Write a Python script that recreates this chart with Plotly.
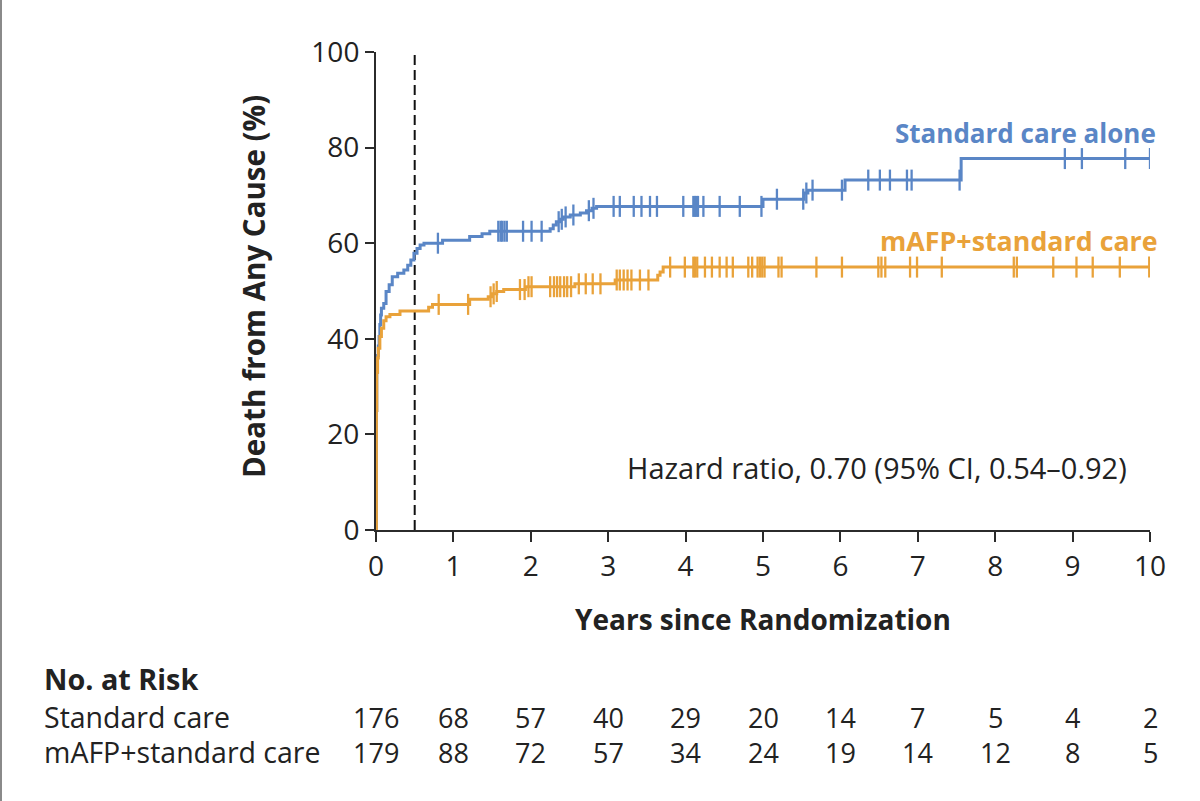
import numpy as np
import plotly.graph_objects as go

# ---------------- data ----------------
std_t = [0, 0.005, 0.01, 0.02, 0.03, 0.04, 0.05, 0.06, 0.07, 0.1, 0.13, 0.17, 0.21, 0.28, 0.36,
         0.41, 0.45, 0.49, 0.53, 0.57, 0.62, 0.86, 1.21, 1.37, 1.47, 2.25, 2.29, 2.33, 2.38, 2.42,
         2.51, 2.64, 2.72, 2.79, 2.85, 5.0, 5.53, 5.58, 6.06, 7.56, 10.05]
std_v = [0, 25, 33, 36.5, 38.5, 40.5, 43, 45, 46.4, 47.4, 49.9, 51.3, 53, 53.7, 54.4,
         55.4, 56.5, 57.9, 58.9, 59.6, 60.0, 60.6, 61.4, 62.0, 62.5, 63.0, 63.8, 64.5, 65.0, 65.5,
         65.9, 66.3, 66.8, 67.3, 67.7, 69.2, 70.5, 71.1, 73.2, 77.7, 77.7]
std_cens = [0.8, 1.58, 1.61, 1.63, 1.66, 1.69, 1.9, 2.01, 2.14, 2.36, 2.4, 2.45, 2.55, 2.75, 2.81,
            3.07, 3.15, 3.33, 3.43, 3.54, 3.63, 3.97, 4.1, 4.12, 4.14, 4.16, 4.23, 4.44, 4.70, 4.98,
            5.18, 5.52, 5.56, 5.64, 6.02, 6.36, 6.51, 6.64, 6.86, 6.92, 7.54, 8.90, 9.12, 9.68, 10.0]

mafp_t = [0, 0.005, 0.01, 0.02, 0.03, 0.05, 0.07, 0.1, 0.13, 0.18, 0.31, 0.68, 0.73, 1.21, 1.45,
          1.5, 1.56, 1.65, 1.93, 2.57, 3.09, 3.64, 3.67, 3.71, 10.05]
mafp_v = [0, 25, 33, 36, 38, 40.5, 42.2, 43.8, 44.6, 45.1, 45.8, 46.6, 47.2, 48.3, 48.8,
          49.4, 49.9, 50.3, 50.9, 51.5, 52.3, 53.3, 54.0, 55.0, 55.0]
mafp_cens = [0.81, 1.19, 1.48, 1.52, 1.56, 1.86, 1.92, 1.97, 2.01, 2.25, 2.3, 2.34, 2.38, 2.43,
             2.47, 2.52, 2.62, 2.71, 2.8, 2.9, 3.11, 3.15, 3.2, 3.25, 3.3, 3.41, 3.52, 3.8, 3.99,
             4.1, 4.12, 4.15, 4.25, 4.34, 4.44, 4.53, 4.61, 4.81, 4.86, 4.93, 4.96, 4.99, 5.02,
             5.2, 5.24, 5.69, 6.02, 6.49, 6.53, 6.58, 6.9, 6.99, 7.31, 8.24, 8.28, 8.75, 9.05,
             9.26, 9.61, 9.99]

risk_years = [0, 1, 2, 3, 4, 5, 6, 7, 8, 9, 10]
risk_std = [176, 68, 57, 40, 29, 20, 14, 7, 5, 4, 2]
risk_mafp = [179, 88, 72, 57, 34, 24, 19, 14, 12, 8, 5]

group_names = ["Standard care alone", "mAFP+standard care"]
risk_labels = ["Standard care", "mAFP+standard care"]
landmark_year = 0.5
hazard_text = "Hazard ratio, 0.70 (95% CI, 0.54\u20130.92)"

# ---------------- styling ----------------
BLUE = "#5a86c6"
ORANGE = "#e9a23a"
AX = "#2b2b2b"
TXT = "#222222"
FONT = "Open Sans"
W, H = 1200, 801
L, R, T, B = 376, 50, 52, 271
pw, ph = W - L - R, H - T - B


def step_at(ts, vs, x):
    ts = np.asarray(ts)
    vs = np.asarray(vs)
    idx = np.searchsorted(ts, x, side="right") - 1
    return vs[np.clip(idx, 0, len(vs) - 1)]


def px_x(p):
    return (p - L) / pw


def px_y(p):
    return (H - B - p) / ph


fig = go.Figure()

for ts, vs, cens, col, name in [(std_t, std_v, std_cens, BLUE, group_names[0]),
                                (mafp_t, mafp_v, mafp_cens, ORANGE, group_names[1])]:
    fig.add_trace(go.Scatter(x=ts, y=vs, mode="lines", line=dict(color=col, width=3, shape="hv"),
                             name=name, showlegend=False, hoverinfo="skip"))
    fig.add_trace(go.Scatter(x=cens, y=step_at(ts, vs, cens), mode="markers",
                             marker=dict(symbol="line-ns", size=15, line=dict(color=col, width=2.3)),
                             showlegend=False, hoverinfo="skip"))

# landmark dashed line
fig.add_shape(type="line", xref="x", yref="paper", x0=landmark_year, x1=landmark_year, y0=0, y1=1,
              line=dict(color="#111111", width=2, dash="10px,5px"), layer="below")

# left gray frame line
fig.add_shape(type="line", xref="paper", yref="paper", x0=px_x(1), x1=px_x(1), y0=px_y(H), y1=px_y(0),
              line=dict(color="#8a8a8a", width=2))

ann = []
# curve labels
ann.append(dict(text="<b>" + group_names[0] + "</b>", x=px_x(1158), y=px_y(133), xref="paper", yref="paper",
                xanchor="right", yanchor="middle", showarrow=False, font=dict(family=FONT, size=26, color=BLUE)))
ann.append(dict(text="<b>" + group_names[1] + "</b>", x=px_x(1160), y=px_y(240), xref="paper", yref="paper",
                xanchor="right", yanchor="middle", showarrow=False, font=dict(family=FONT, size=26.8, color=ORANGE)))
# hazard ratio
ann.append(dict(text=hazard_text, x=px_x(1129), y=px_y(467), xref="paper", yref="paper",
                xanchor="right", yanchor="middle", showarrow=False, font=dict(family=FONT, size=29, color=TXT)))
# axis titles
ann.append(dict(text="<b>Years since Randomization</b>", x=0.5, y=px_y(619), xref="paper", yref="paper",
                xanchor="center", yanchor="middle", showarrow=False, font=dict(family=FONT, size=28, color=TXT)))
ann.append(dict(text="<b>Death from Any Cause (%)</b>", x=px_x(253), y=px_y(287), xref="paper", yref="paper",
                xanchor="center", yanchor="middle", textangle=-90, showarrow=False,
                font=dict(family=FONT, size=29.5, color=TXT)))
# risk table
ann.append(dict(text="<b>No. at Risk</b>", x=px_x(42), y=px_y(678), xref="paper", yref="paper",
                xanchor="left", yanchor="middle", showarrow=False, font=dict(family=FONT, size=28.8, color=TXT)))
for lab, vals, ypx in [(risk_labels[0], risk_std, 717), (risk_labels[1], risk_mafp, 752)]:
    ann.append(dict(text=lab, x=px_x(42), y=px_y(ypx), xref="paper", yref="paper",
                    xanchor="left", yanchor="middle", showarrow=False, font=dict(family=FONT, size=28.5, color=TXT)))
    for yr, v in zip(risk_years, vals):
        ann.append(dict(text=str(v), x=yr, y=px_y(ypx), xref="x", yref="paper",
                        xanchor="center", yanchor="middle", showarrow=False,
                        font=dict(family=FONT, size=27, color=TXT)))

fig.update_layout(
    width=W, height=H,
    margin=dict(l=L, r=R, t=T, b=B, pad=0),
    paper_bgcolor="white", plot_bgcolor="white",
    annotations=ann,
    xaxis=dict(range=[0, 10], tickvals=risk_years, ticktext=[str(y) for y in risk_years],
               showgrid=False, zeroline=False, showline=True, linecolor=AX, linewidth=2,
               ticks="outside", ticklen=10, tickwidth=2, tickcolor=AX,
               tickfont=dict(family=FONT, size=28, color=TXT), fixedrange=True),
    yaxis=dict(range=[0, 100], tickvals=[0, 20, 40, 60, 80, 100],
               showgrid=False, zeroline=False, showline=True, linecolor=AX, linewidth=2,
               ticks="outside", ticklen=9, tickwidth=2, tickcolor=AX,
               tickfont=dict(family=FONT, size=28, color=TXT), fixedrange=True),
)

fig.write_html("out.html", config={"displayModeBar": False},
               post_script="document.body.style.margin='0px';document.body.style.overflow='hidden';"
                           "document.documentElement.style.overflow='hidden';")
